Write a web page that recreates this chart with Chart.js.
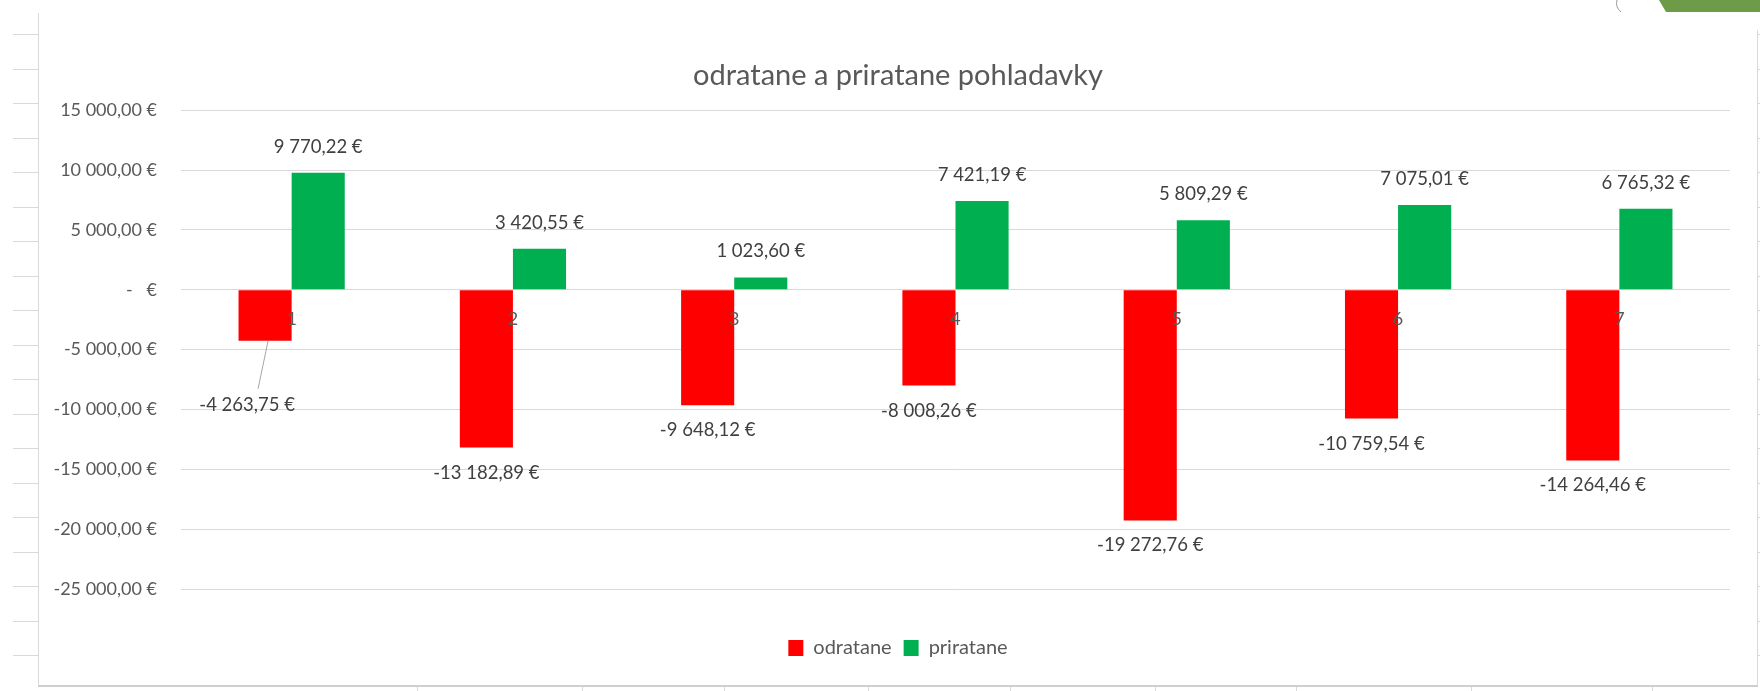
<!DOCTYPE html>
<html>
<head>
<meta charset="utf-8">
<script src="https://cdn.jsdelivr.net/npm/chart.js@4.4.1/dist/chart.umd.min.js"></script>
<style>
    html, body { margin: 0; padding: 0; background: #fff; }
    #wrap { width: 1760px; height: 691px; position: relative; }
</style>
</head>
<body>
<div id="wrap"><canvas id="chart"></canvas></div>
<script>
// odratane a priratane pohladavky - Excel style column chart
const categories = ['1', '2', '3', '4', '5', '6', '7'];
const odratane = [-4263.75, -13182.89, -9648.12, -8008.26, -19272.76, -10759.54, -14264.46];
const priratane = [9770.22, 3420.55, 1023.60, 7421.19, 5809.29, 7075.01, 6765.32];
const seriesNames = ['odratane', 'priratane'];
const yMin = -25000;
const yMax = 15000;
const yStep = 5000;

const FONT = 'Lato, "Open Sans", sans-serif';
const TEXT = '#595959';

function formatEur(v) {
    if (v === 0) return '-   €';
    const neg = v < 0;
    const parts = Math.abs(v).toFixed(2).split('.');
    const whole = parts[0].replace(/\B(?=(\d{3})+(?!\d))/g, ' ');
    return (neg ? '-' : '') + whole + ',' + parts[1] + ' €';
}

// --- data labels above / below bars ---
const valueLabels = {
    id: 'valueLabels',
    afterDatasetsDraw(chart) {
        const ctx = chart.ctx;
        ctx.save();
        ctx.font = '18.5px ' + FONT;
        ctx.fillStyle = '#404040';
        ctx.textAlign = 'center';
        ctx.textBaseline = 'middle';
        chart.data.datasets.forEach(function (ds, di) {
            chart.getDatasetMeta(di).data.forEach(function (bar, i) {
                const v = ds.data[i];
                let x = bar.x;
                let y = v >= 0 ? bar.y - 26 : bar.y + 25;
                // first red label was dragged down in the original, with a leader line
                if (di === 0 && i === 0) {
                    x = bar.x - 18;
                    y = bar.y + 64;
                    ctx.strokeStyle = '#a6a6a6';
                    ctx.lineWidth = 1;
                    ctx.beginPath();
                    ctx.moveTo(bar.x + 3, bar.y);
                    ctx.lineTo(bar.x - 7, y - 16);
                    ctx.stroke();
                }
                ctx.fillText(formatEur(v), x, y);
            });
        });
        ctx.restore();
    }
};

// y labels reach past the left padding; widen the label clip box
const yLabelRoom = {
    id: 'yLabelRoom',
    afterLayout(chart) {
        chart.scales.y.left = 0;
    }
};

// --- spreadsheet bits around the chart object ---
const sheetFrame = {
    id: 'sheetFrame',
    beforeDraw(chart) {
        const ctx = chart.ctx;
        ctx.save();
        ctx.strokeStyle = '#d9d9d9';
        ctx.lineWidth = 1;
        ctx.beginPath();
        ctx.moveTo(38.5, 13); ctx.lineTo(38.5, 686);
        ctx.moveTo(1757.5, 30); ctx.lineTo(1757.5, 686);
        for (let y = 34; y < 686; y += 34.5) {
            ctx.moveTo(13, Math.round(y) + 0.5); ctx.lineTo(38, Math.round(y) + 0.5);
            ctx.moveTo(1758, Math.round(y) + 0.5); ctx.lineTo(1760, Math.round(y) + 0.5);
        }
        [417, 582, 724, 868, 1010, 1155, 1296, 1471, 1652].forEach(function (x) {
            ctx.moveTo(x + 0.5, 687); ctx.lineTo(x + 0.5, 691);
        });
        ctx.stroke();
        ctx.strokeStyle = '#cfcfcf';
        ctx.lineWidth = 2;
        ctx.beginPath();
        ctx.moveTo(38, 686); ctx.lineTo(1758, 686);
        ctx.stroke();
        ctx.fillStyle = '#6e9b48';
        ctx.beginPath();
        ctx.moveTo(1659, 0); ctx.lineTo(1760, 0); ctx.lineTo(1760, 12); ctx.lineTo(1666, 12);
        ctx.closePath();
        ctx.fill();
        ctx.strokeStyle = '#9a9a9a';
        ctx.lineWidth = 1;
        ctx.beginPath();
        ctx.moveTo(1617, 0); ctx.quadraticCurveTo(1615, 7, 1621, 12);
        ctx.stroke();
        ctx.restore();
    }
};

new Chart(document.getElementById('chart').getContext('2d'), {
    type: 'bar',
    data: {
        labels: categories,
        datasets: [{
            label: seriesNames[0],
            data: odratane,
            backgroundColor: '#ff0000',
            categoryPercentage: 0.48,
            barPercentage: 1.0
        }, {
            label: seriesNames[1],
            data: priratane,
            backgroundColor: '#00b050',
            categoryPercentage: 0.48,
            barPercentage: 1.0
        }]
    },
    options: {
        responsive: true,
        maintainAspectRatio: false,
        animation: false,
        layout: { padding: { left: 66, right: 30, top: 58, bottom: 23 } },
        scales: {
            x: {
                position: { y: 0 },
                grid: { display: false, drawTicks: false },
                border: { display: false },
                // category numbers sit on top of the red bars
                ticks: { z: 1, color: '#595959', font: { family: FONT, size: 18 }, padding: 19 }
            },
            y: {
                min: yMin,
                max: yMax,
                grid: { color: '#d9d9d9', lineWidth: 1, drawTicks: false },
                border: { display: false },
                ticks: {
                    stepSize: yStep,
                    color: TEXT,
                    font: { family: FONT, size: 18 },
                    padding: 24,
                    callback: function (v) { return formatEur(v); }
                },
                afterFit: function (scale) { scale.width = 115; }
            }
        },
        plugins: {
            title: {
                display: true,
                text: 'odratane a priratane pohladavky',
                color: TEXT,
                font: { family: FONT, size: 29, weight: 'normal' },
                padding: { top: 0, bottom: 17.4 }
            },
            legend: {
                position: 'bottom',
                title: { display: true, text: '', font: { size: 12 }, padding: 11.3 },
                labels: {
                    color: TEXT,
                    font: { family: FONT, size: 20 },
                    boxWidth: 15,
                    boxHeight: 16,
                    padding: 12
                }
            },
            tooltip: { enabled: false }
        }
    },
    plugins: [sheetFrame, yLabelRoom, valueLabels]
});
</script>
</body>
</html>
